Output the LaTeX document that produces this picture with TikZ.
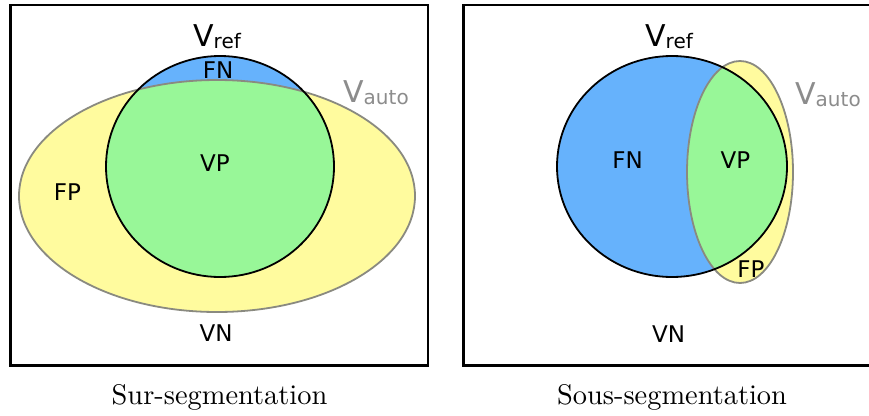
\documentclass[tikz,border=0pt]{standalone}
\usepackage{fontspec}
\newfontfamily\labfont{DejaVu Sans}
\newfontfamily\capfont{lmroman10-regular}[Extension=.otf]
\definecolor{fnblue}{RGB}{102,178,252}
\definecolor{vpgreen}{RGB}{152,247,152}
\definecolor{fpyellow}{RGB}{255,251,158}
\definecolor{autogray}{RGB}{138,138,128}
\definecolor{autotext}{RGB}{140,140,140}
\tikzset{
  panelframe/.style={draw=black, line width=2.8pt},
  refline/.style={draw=black, line width=1.8pt},
  autoline/.style={draw=autogray, line width=1.8pt},
  lab/.style={font=\labfont\fontsize{23}{23}\selectfont, anchor=base, inner sep=0pt},
  vsym/.style={font=\labfont\fontsize{30}{30}\selectfont, anchor=base west, inner sep=0pt},
  captext/.style={font=\capfont\fontsize{28.4}{30}\selectfont, anchor=base, inner sep=0pt}
}
\newcommand{\subtxt}[1]{\raisebox{-2.5pt}{\fontsize{20}{20}\selectfont #1}}
\begin{document}
\begin{tikzpicture}[x=1pt,y=-1pt]
\useasboundingbox (0,0) rectangle (869,415);
\clip (0,0) rectangle (869,415);
\fill[white] (0,0) rectangle (869,415);
% ---------- left panel ----------
\fill[fpyellow] (217,196) ellipse [x radius=198, y radius=116];
\fill[fnblue] (220,166.5) ellipse [x radius=114, y radius=110.5];
\begin{scope}
  \clip (217,196) ellipse [x radius=198, y radius=116];
  \fill[vpgreen] (220,166.5) ellipse [x radius=114, y radius=110.5];
\end{scope}
\draw[autoline] (217,196) ellipse [x radius=198, y radius=116];
\draw[refline] (220,166.5) ellipse [x radius=114, y radius=110.5];
\draw[panelframe] (10.5,5) rectangle (428,365.5);
\node[vsym] (lref) at (193,46) {V\subtxt{ref}};
\node[vsym, text=autotext] (lauto) at (343,102) {V\subtxt{auto}};
\node[lab] (lfn) at (218,78) {FN};
\node[lab] (lvp) at (215,171) {VP};
\node[lab] (lfp) at (67.5,200) {FP};
\node[lab] (lvn) at (216,341) {VN};
\node[captext] (lcap) at (219.5,404) {Sur-segmentation};
% ---------- right panel ----------
\fill[fnblue] (672,166.5) ellipse [x radius=115, y radius=110.5];
\fill[fpyellow] (740,172) ellipse [x radius=53, y radius=111];
\begin{scope}
  \clip (740,172) ellipse [x radius=53, y radius=111];
  \fill[vpgreen] (672,166.5) ellipse [x radius=115, y radius=110.5];
\end{scope}
\draw[autoline] (740,172) ellipse [x radius=53, y radius=111];
\draw[refline] (672,166.5) ellipse [x radius=115, y radius=110.5];
\draw[panelframe] (463.5,5) rectangle (890,365.5);
\node[vsym] (rref) at (645,46) {V\subtxt{ref}};
\node[vsym, text=autotext] (rauto) at (795,104) {V\subtxt{auto}};
\node[lab] (rfn) at (627.5,168) {FN};
\node[lab] (rvp) at (735.5,168) {VP};
\node[lab] (rfp) at (751,277) {FP};
\node[lab] (rvn) at (668.5,342) {VN};
\node[captext] (rcap) at (672,404) {Sous-segmentation};
\end{tikzpicture}
\end{document}
